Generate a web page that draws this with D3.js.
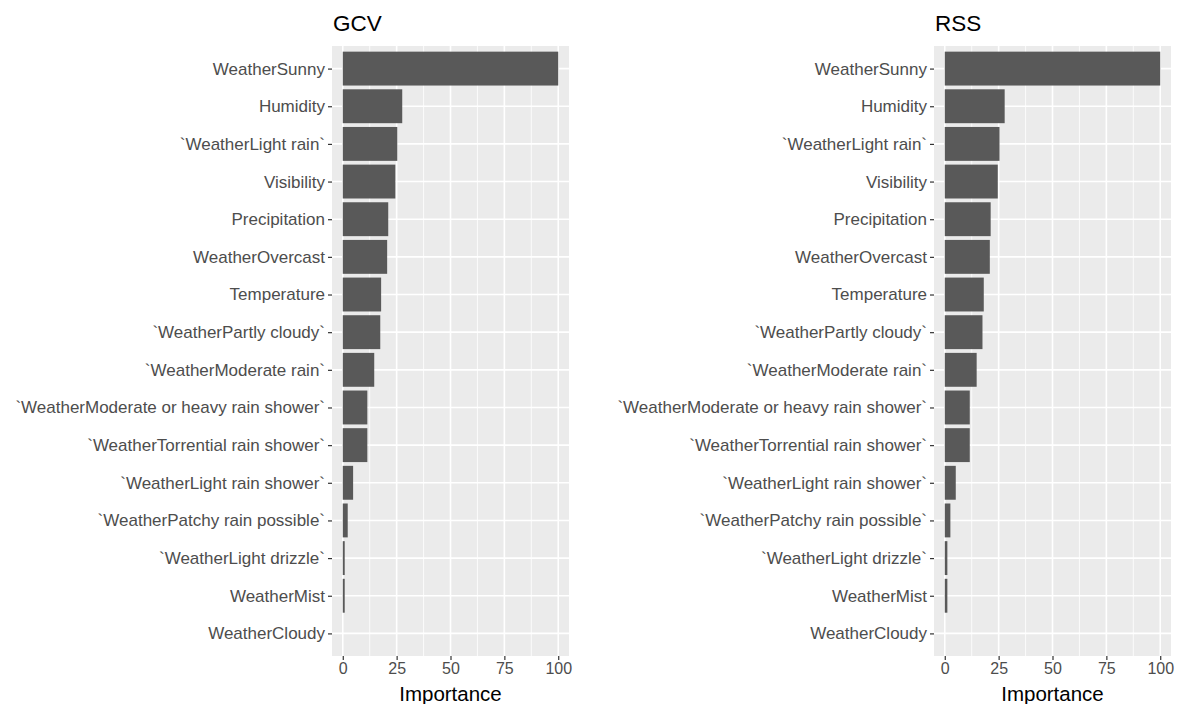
<!DOCTYPE html>
<html>
<head>
<meta charset="utf-8">
<script src="https://cdn.jsdelivr.net/npm/d3@7"></script>
<style>
  body { margin: 0; background: #fff; }
  svg { display: block; font-family: "Liberation Sans", Arial, sans-serif; }
</style>
</head>
<body>
<svg width="1180" height="704"></svg>
<script>
const svg = d3.select("svg");

// variables, top to bottom
const variables = [
  "WeatherSunny", "Humidity", "`WeatherLight rain`", "Visibility", "Precipitation",
  "WeatherOvercast", "Temperature", "`WeatherPartly cloudy`", "`WeatherModerate rain`",
  "`WeatherModerate or heavy rain shower`", "`WeatherTorrential rain shower`",
  "`WeatherLight rain shower`", "`WeatherPatchy rain possible`", "`WeatherLight drizzle`",
  "WeatherMist", "WeatherCloudy"
];
const gcvValues = [100, 27.6, 25.3, 24.4, 21.1, 20.6, 17.8, 17.4, 14.6, 11.4, 11.4, 4.8, 2.3, 0.9, 0.9, 0];
const rssValues = [100, 27.8, 25.4, 24.6, 21.3, 20.9, 18.1, 17.5, 14.8, 11.6, 11.6, 5.1, 2.6, 1.2, 1.2, 0];
const xTicks = [0, 25, 50, 75, 100];

const panels = [
  { title: "GCV", values: gcvValues, left: 332, right: 569 },
  { title: "RSS", values: rssValues, left: 934, right: 1171 }
];
const plotTop = 46, plotBottom = 656;

panels.forEach(p => {
  const g = svg.append("g");
  // ggplot-style expansion: 5% on continuous, 0.6 on discrete
  const x = d3.scaleLinear().domain([-5, 105]).range([p.left, p.right]);
  const y = d3.scalePoint().domain(variables).range([plotTop, plotBottom]).padding(0.6);
  const step = y.step();

  g.append("rect")
    .attr("x", p.left).attr("y", plotTop)
    .attr("width", p.right - p.left).attr("height", plotBottom - plotTop)
    .attr("fill", "#EBEBEB");

  // minor grid
  g.selectAll(".minor").data([12.5, 37.5, 62.5, 87.5]).enter().append("line")
    .attr("x1", d => x(d)).attr("x2", d => x(d))
    .attr("y1", plotTop).attr("y2", plotBottom)
    .attr("stroke", "#fff").attr("stroke-width", 0.8);

  // major grid
  g.selectAll(".majx").data(xTicks).enter().append("line")
    .attr("x1", d => x(d)).attr("x2", d => x(d))
    .attr("y1", plotTop).attr("y2", plotBottom)
    .attr("stroke", "#fff").attr("stroke-width", 1.6);
  g.selectAll(".majy").data(variables).enter().append("line")
    .attr("x1", p.left).attr("x2", p.right)
    .attr("y1", d => y(d)).attr("y2", d => y(d))
    .attr("stroke", "#fff").attr("stroke-width", 1.6);

  // bars
  g.selectAll(".bar").data(variables).enter().append("rect")
    .attr("x", x(0))
    .attr("y", d => y(d) - step * 0.45)
    .attr("width", (d, i) => x(p.values[i]) - x(0))
    .attr("height", step * 0.9)
    .attr("fill", "#595959");

  // x axis
  const xa = g.append("g").attr("transform", `translate(0,${plotBottom})`)
    .call(d3.axisBottom(x).tickValues(xTicks).tickSize(4).tickPadding(3));
  xa.select(".domain").remove();
  xa.selectAll("line").attr("stroke", "#333").attr("stroke-width", 1.2);
  xa.selectAll("text").attr("fill", "#4D4D4D").attr("font-size", 16)
    .attr("font-family", "'Liberation Sans', Arial, sans-serif");

  // y axis
  const ya = g.append("g").attr("transform", `translate(${p.left},0)`)
    .call(d3.axisLeft(y).tickSize(4).tickPadding(3));
  ya.select(".domain").remove();
  ya.selectAll("line").attr("stroke", "#333").attr("stroke-width", 1.2);
  ya.selectAll("text").attr("fill", "#4D4D4D").attr("font-size", 17)
    .attr("font-family", "'Liberation Sans', Arial, sans-serif");

  // title
  g.append("text")
    .attr("x", p.left + 1).attr("y", 31)
    .attr("font-size", 22.5).attr("fill", "#000")
    .text(p.title);

  // axis title
  g.append("text")
    .attr("x", (p.left + p.right) / 2).attr("y", 701)
    .attr("text-anchor", "middle")
    .attr("font-size", 20.5).attr("fill", "#000")
    .text("Importance");
});
</script>
</body>
</html>
